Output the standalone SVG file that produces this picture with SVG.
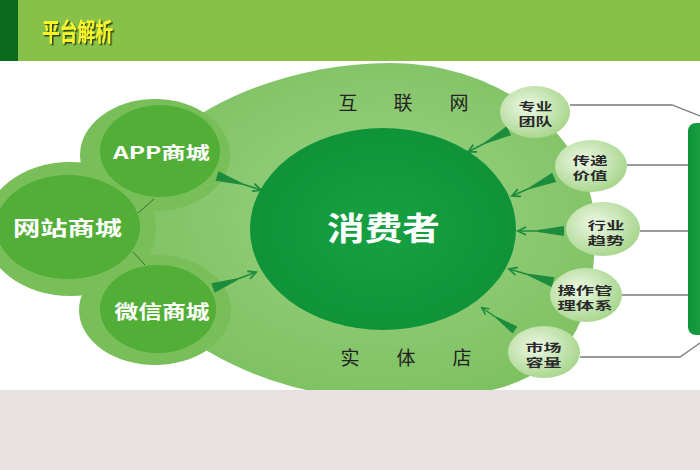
<svg xmlns="http://www.w3.org/2000/svg" width="700" height="470" viewBox="0 0 700 470">
<defs>
<style>
.cjk{font-family:"Noto Sans CJK SC","Noto Sans",sans-serif}
.wt{fill:#ffffff;font-weight:700}
.dk{fill:#2a2a2a;font-weight:700;font-size:11px}
.lbl{fill:#222222;font-size:19px}
.halo{fill:#79bf59}
.inner{fill:#52ae37}
.sm{fill:url(#gSm)}
.gl{stroke:#7a7a7a;stroke-width:1.3;fill:none}
.ar{fill:#1d8c3c;stroke:#1d8c3c}
</style>
<radialGradient id="gBlob" cx="0.55" cy="0.45" r="0.6">
<stop offset="0" stop-color="#9bd285"/>
<stop offset="1" stop-color="#7cc05f"/>
</radialGradient>
<radialGradient id="gCon" cx="0.5" cy="0.5" r="0.55">
<stop offset="0" stop-color="#17a142"/>
<stop offset="1" stop-color="#0e9237"/>
</radialGradient>
<radialGradient id="gSm" cx="0.4" cy="0.4" r="0.65">
<stop offset="0" stop-color="#eef8e6"/>
<stop offset="1" stop-color="#a6d58a"/>
</radialGradient>
<linearGradient id="gBar" x1="0" y1="0" x2="1" y2="0">
<stop offset="0" stop-color="#0d9438"/>
<stop offset="1" stop-color="#2aab4c"/>
</linearGradient>
<filter id="shd" x="-10%" y="-20%" width="130%" height="150%">
<feDropShadow dx="1.5" dy="1.5" stdDeviation="0.6" flood-color="#2b3a10" flood-opacity="0.9"/>
</filter>
<g id="arr" class="ar">
<polygon points="0,-5 0,5 26,0.9 26,-0.9" stroke="none"/>
<line x1="0" y1="0" x2="45" y2="0" stroke-width="1.6"/>
<polyline points="38,-4 46,0 38,4" fill="none" stroke-width="1.8"/>
</g>
</defs>

<rect x="0" y="0" width="700" height="470" fill="#ffffff"/>

<g id="header">
<rect x="0" y="0" width="700" height="61" fill="#87c14a"/>
<rect x="0" y="0" width="18" height="61" fill="#0b6a1b"/>
<text class="cjk" x="42" y="41" font-size="25" font-weight="700" fill="#f6f52a" textLength="71" lengthAdjust="spacingAndGlyphs" filter="url(#shd)">平台解析</text>
</g>

<g id="blob">
<path d="M390,63 C503,63 595,138 595,230 C595,357 544,400 390,400 C257,400 120,323 120,228 C120,137 257,63 390,63 Z" fill="url(#gBlob)"/>
<text class="cjk lbl" y="110" text-anchor="middle"><tspan x="348">互</tspan><tspan x="403">联</tspan><tspan x="459">网</tspan></text>
<text class="cjk lbl" y="365" text-anchor="middle"><tspan x="350">实</tspan><tspan x="406">体</tspan><tspan x="462">店</tspan></text>
</g>

<g id="halos">
<ellipse class="halo" cx="155" cy="155" rx="75" ry="56"/>
<ellipse class="halo" cx="155" cy="310" rx="76" ry="55"/>
<ellipse class="halo" cx="70" cy="229" rx="86" ry="67"/>
</g>

<g id="app">
<ellipse class="inner" cx="160" cy="151" rx="60" ry="46"/>
<text class="cjk wt" x="161.5" y="159" font-size="17" text-anchor="middle" textLength="97" lengthAdjust="spacingAndGlyphs">APP商城</text>
</g>
<g id="web">
<ellipse class="inner" cx="68" cy="227" rx="72" ry="52"/>
<text class="cjk wt" x="67.5" y="235.5" font-size="20" text-anchor="middle" textLength="109" lengthAdjust="spacingAndGlyphs">网站商城</text>
</g>
<g id="wechat">
<ellipse class="inner" cx="158" cy="309" rx="58" ry="44"/>
<text class="cjk wt" x="162" y="318.5" font-size="19" text-anchor="middle" textLength="95" lengthAdjust="spacingAndGlyphs">微信商城</text>
</g>

<g id="consumer">
<ellipse cx="383" cy="229" rx="133" ry="101" fill="url(#gCon)"/>
<text class="cjk wt" x="383.5" y="239.5" font-size="32" text-anchor="middle" textLength="113" lengthAdjust="spacingAndGlyphs">消费者</text>
</g>

<g id="connectors">
<line x1="138" y1="213" x2="154" y2="199" stroke="#3d6b2c" stroke-width="1"/>
<line x1="133" y1="252" x2="145" y2="265" stroke="#3d6b2c" stroke-width="1"/>
<use href="#arr" transform="translate(217,176) rotate(17.6)"/>
<use href="#arr" transform="translate(213,288) rotate(-20)"/>
<use href="#arr" transform="translate(508.8,130.7) rotate(152.4)"/>
<use href="#arr" transform="translate(554.1,177.4) rotate(156.2)"/>
<use href="#arr" transform="translate(564,231) rotate(180)"/>
<use href="#arr" transform="translate(553.1,282.1) rotate(-163.5)"/>
<use href="#arr" transform="translate(515,330) rotate(-146.3) scale(0.87)"/>
<path class="gl" d="M570,105 H672 L700,116"/>
<path class="gl" d="M627,165 H688"/>
<path class="gl" d="M640,231 H688"/>
<path class="gl" d="M622,295 H688"/>
<path class="gl" d="M580,357 H680 L700,343"/>
</g>

<g id="team">
<ellipse class="sm" cx="535" cy="112" rx="35" ry="26"/>
<text class="cjk dk" text-anchor="middle"><tspan x="535.5" y="111" textLength="34" lengthAdjust="spacingAndGlyphs">专业</tspan><tspan x="535.5" y="125.5" textLength="34" lengthAdjust="spacingAndGlyphs">团队</tspan></text>
</g>
<g id="value">
<ellipse class="sm" cx="591" cy="166" rx="36" ry="26"/>
<text class="cjk dk" text-anchor="middle"><tspan x="590" y="165" textLength="35" lengthAdjust="spacingAndGlyphs">传递</tspan><tspan x="590" y="179.5" textLength="35" lengthAdjust="spacingAndGlyphs">价值</tspan></text>
</g>
<g id="trend">
<ellipse class="sm" cx="603" cy="229" rx="37" ry="27"/>
<text class="cjk dk" text-anchor="middle"><tspan x="606" y="230" textLength="37" lengthAdjust="spacingAndGlyphs">行业</tspan><tspan x="606" y="244.5" textLength="37" lengthAdjust="spacingAndGlyphs">趋势</tspan></text>
</g>
<g id="system">
<ellipse class="sm" cx="586" cy="295" rx="36" ry="27"/>
<text class="cjk dk" text-anchor="middle"><tspan x="585" y="294.5" textLength="55" lengthAdjust="spacingAndGlyphs">操作管</tspan><tspan x="585" y="309.5" textLength="55" lengthAdjust="spacingAndGlyphs">理体系</tspan></text>
</g>
<g id="market">
<ellipse class="sm" cx="544" cy="352" rx="36" ry="26"/>
<text class="cjk dk" text-anchor="middle"><tspan x="543.5" y="352" textLength="36" lengthAdjust="spacingAndGlyphs">市场</tspan><tspan x="543.5" y="366.5" textLength="36" lengthAdjust="spacingAndGlyphs">容量</tspan></text>
</g>

<g id="bar">
<rect x="688" y="123" width="30" height="212" rx="8" fill="url(#gBar)"/>
</g>

<rect x="0" y="390" width="700" height="80" fill="#e7e1e1"/>
</svg>
